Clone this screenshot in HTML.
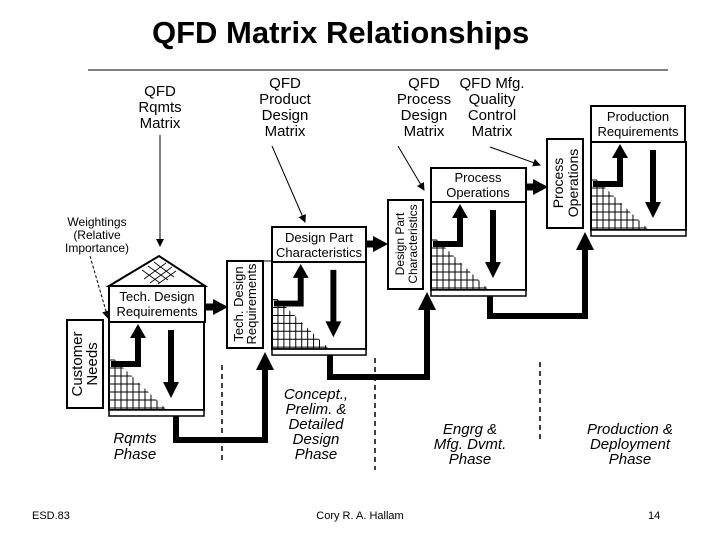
<!DOCTYPE html>
<html><head><meta charset="utf-8"><style>
body{margin:0;background:#fff}
svg text{font-family:"Liberation Sans",Arial,sans-serif;fill:#000}
</style></head><body>
<svg width="720" height="540" viewBox="0 0 720 540" xmlns="http://www.w3.org/2000/svg">
<defs>
<marker id="ah" markerWidth="8" markerHeight="8" refX="7" refY="4" orient="auto" markerUnits="userSpaceOnUse"><path d="M0,0 L8,4 L0,8 z"/></marker>
<clipPath id="tri"><path d="M0,32 L0,88 L58,88 z"/></clipPath>
<g id="body">
<rect x="0" y="0" width="95" height="88" fill="#fff" stroke="#000" stroke-width="2"/>
<path d="M2,42 H29 V14" fill="none" stroke="#000" stroke-width="6"/>
<path d="M21,16 L29,2 L37,16 z"/>
<path d="M62,8 V62" stroke="#000" stroke-width="6"/>
<path d="M54,60 L62,76 L70,60 z"/>
<g clip-path="url(#tri)" stroke="#000" stroke-width="1">
<path d="M6,30V88M12,30V88M18,30V88M24,30V88M30,30V88M36,30V88M42,30V88M48,30V88M54,30V88M0,38H60M0,46H60M0,54H60M0,62H60M0,70H60M0,78H60M0,86H60"/>
</g>
<rect x="0" y="88" width="95" height="6" fill="#fff" stroke="#000" stroke-width="1.5"/>
</g>
</defs>

<text x="152" y="43" font-size="31" font-weight="bold">QFD Matrix Relationships</text>
<line x1="88" y1="70" x2="668" y2="70" stroke="#000" stroke-width="1"/>

<g font-size="15" text-anchor="middle">
<text x="160" y="96">QFD</text><text x="160" y="112">Rqmts</text><text x="160" y="128">Matrix</text>
<text x="285" y="88">QFD</text><text x="285" y="104">Product</text><text x="285" y="120">Design</text><text x="285" y="136">Matrix</text>
<text x="424" y="88">QFD</text><text x="424" y="104">Process</text><text x="424" y="120">Design</text><text x="424" y="136">Matrix</text>
<text x="492" y="88">QFD Mfg.</text><text x="492" y="104">Quality</text><text x="492" y="120">Control</text><text x="492" y="136">Matrix</text>
</g>
<g font-size="12" text-anchor="middle">
<text x="97" y="226">Weightings</text><text x="97" y="239">(Relative</text><text x="97" y="252">Importance)</text>
</g>
<g stroke="#000" stroke-width="1" fill="none">
<line x1="160" y1="135" x2="160" y2="246" marker-end="url(#ah)"/>
<line x1="272" y1="146" x2="305" y2="222" marker-end="url(#ah)"/>
<line x1="398" y1="146" x2="424" y2="190" marker-end="url(#ah)"/>
<line x1="490" y1="147" x2="540" y2="165" marker-end="url(#ah)"/>
<line x1="90" y1="256" x2="108" y2="318" stroke-dasharray="3,2" marker-end="url(#ah)"/>
</g>

<g stroke="#000" stroke-width="1.5" stroke-dasharray="5,4">
<line x1="222" y1="365" x2="222" y2="462"/>
<line x1="375" y1="358" x2="375" y2="470"/>
<line x1="540" y1="362" x2="540" y2="440"/>
</g>

<g fill="none" stroke="#000" stroke-width="6">
<path d="M176,415 V440 H265 V368"/>
<path d="M330,355 V377 H427 V308"/>
<path d="M490,294 V316 H585 V248"/>
</g>
<path d="M256,370 L265,352 L274,370 z"/>
<path d="M418,310 L427,292 L436,310 z"/>
<path d="M576,250 L585,232 L594,250 z"/>

<!-- stage 1 -->
<rect x="67" y="320" width="36" height="88" fill="#fff" stroke="#000" stroke-width="2"/>
<text transform="translate(82,364) rotate(-90)" font-size="15" text-anchor="middle"><tspan x="0" dy="0">Customer</tspan><tspan x="0" dy="15">Needs</tspan></text>
<path d="M109,286 L159,256 L205,286 z" fill="#fff" stroke="#000" stroke-width="2"/>
<g stroke="#000" stroke-width="0.8"><path d="M142,270 L160,283 M148,266 L168,280 M154,262 L174,277 M144,279 L166,263 M150,283 L172,267 M158,284 L176,271"/></g>
<rect x="109" y="286" width="96" height="36" fill="#fff" stroke="#000" stroke-width="2"/>
<text x="157" y="301" font-size="13" text-anchor="middle">Tech. Design</text>
<text x="157" y="316" font-size="13" text-anchor="middle">Requirements</text>
<use href="#body" transform="translate(109,322)"/>
<path d="M205,307 H214" stroke="#000" stroke-width="7"/><path d="M213,299 L228,307 L213,315 z"/>

<!-- stage 2 -->
<rect x="227" y="261" width="36" height="87" fill="#fff" stroke="#000" stroke-width="2"/>
<line x1="263" y1="261" x2="272" y2="261" stroke="#000"/>
<text transform="translate(244,304) rotate(-90)" font-size="13" text-anchor="middle"><tspan x="0" dy="-1">Tech. Design</tspan><tspan x="0" dy="13">Requirements</tspan></text>
<rect x="272" y="227" width="94" height="35" fill="#fff" stroke="#000" stroke-width="2"/>
<text x="319" y="242" font-size="13" text-anchor="middle">Design Part</text>
<text x="319" y="257" font-size="13" text-anchor="middle">Characteristics</text>
<use href="#body" transform="translate(272,262) scale(0.99,0.99)"/>
<path d="M366,244 H374" stroke="#000" stroke-width="7"/><path d="M373,236 L388,244 L373,252 z"/>

<!-- stage 3 -->
<rect x="388" y="200" width="35" height="89" fill="#fff" stroke="#000" stroke-width="2"/>
<text transform="translate(406,244) rotate(-90)" font-size="12" text-anchor="middle"><tspan x="0" dy="-2">Design Part</tspan><tspan x="0" dy="13">Characteristics</tspan></text>
<rect x="431" y="168" width="95" height="34" fill="#fff" stroke="#000" stroke-width="2"/>
<text x="478" y="182" font-size="13" text-anchor="middle">Process</text>
<text x="478" y="197" font-size="13" text-anchor="middle">Operations</text>
<use href="#body" transform="translate(431,202)"/>
<path d="M526,187 H534" stroke="#000" stroke-width="7"/><path d="M533,179 L548,187 L533,195 z"/>

<!-- stage 4 -->
<rect x="547" y="139" width="36" height="89" fill="#fff" stroke="#000" stroke-width="2"/>
<text transform="translate(563,183) rotate(-90)" font-size="14" text-anchor="middle"><tspan x="0" dy="0">Process</tspan><tspan x="0" dy="15">Operations</tspan></text>
<rect x="591" y="106" width="94" height="36" fill="#fff" stroke="#000" stroke-width="2"/>
<text x="638" y="121" font-size="13" text-anchor="middle">Production</text>
<text x="638" y="136" font-size="13" text-anchor="middle">Requirements</text>
<use href="#body" transform="translate(591,142)"/>

<g font-size="15" font-style="italic" text-anchor="middle">
<text x="135" y="443">Rqmts</text><text x="135" y="459">Phase</text>
<text x="316" y="399">Concept.,</text><text x="316" y="414">Prelim. &amp;</text><text x="316" y="429">Detailed</text><text x="316" y="444">Design</text><text x="316" y="459">Phase</text>
<text x="470" y="434">Engrg &amp;</text><text x="470" y="449">Mfg. Dvmt.</text><text x="470" y="464">Phase</text>
<text x="630" y="434">Production &amp;</text><text x="630" y="449">Deployment</text><text x="630" y="464">Phase</text>
</g>

<g font-size="11">
<text x="32" y="519">ESD.83</text>
<text x="360" y="519" text-anchor="middle">Cory R. A. Hallam</text>
<text x="648" y="519">14</text>
</g>
</svg>
</body></html>
